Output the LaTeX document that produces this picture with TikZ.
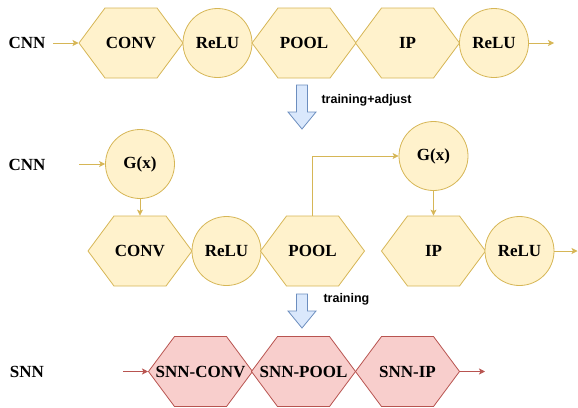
\documentclass[tikz,border=0pt]{standalone}
\usepackage{fontspec}
\setmainfont{Liberation Serif}
\newfontfamily\labelsans{Liberation Sans}
\usetikzlibrary{positioning,
                arrows.meta,                % arrow tips
                shapes.symbols}             % signal shape for the layers

\definecolor{cnnfill}{HTML}{FFF2CC}
\definecolor{cnnline}{HTML}{D6B656}
\definecolor{snnfill}{HTML}{F8CECC}
\definecolor{snnline}{HTML}{B85450}
\definecolor{stepfill}{HTML}{DAE8FC}
\definecolor{stepline}{HTML}{6C8EBF}

\tikzset{
  layer/.style={shape=signal, signal to=east and west, signal pointer angle=106.8,
                minimum width=104pt, minimum height=70pt, inner sep=0pt, line width=0.8pt},
  cnnlayer/.style={layer, draw=cnnline, fill=cnnfill},
  snnlayer/.style={layer, draw=snnline, fill=snnfill},
  act/.style={circle, minimum size=69pt, inner sep=0pt, draw=cnnline, fill=cnnfill, line width=0.8pt},
  cnnflow/.style={draw=cnnline, line width=0.8pt, -{Stealth[length=6pt, width=6pt, inset=1.5pt]}},
  snnflow/.style={draw=snnline, line width=0.8pt, -{Stealth[length=6pt, width=6pt, inset=1.5pt]}},
  steparrow/.style={draw=stepline, fill=stepfill, line width=0.8pt, line join=miter},
  steplabel/.style={anchor=west, font=\labelsans\bfseries\fontsize{12.5}{15}\selectfont}
}

\begin{document}
\begin{tikzpicture}[x=1pt, y=-1pt, font=\bfseries\fontsize{17}{20}\selectfont]
        \useasboundingbox (0,0) rectangle (578,407);

        % plain network
        \node (cnnA) at (27,43) {CNN};
        \node[cnnlayer, label=center:CONV] (convA) at (131,43) {};
        \node[act] (reluA) at (217.5,43) {ReLU};
        \node[cnnlayer, label=center:POOL] (poolA) at (304,43) {};
        \node[cnnlayer, label=center:IP] (ipA) at (407.5,43) {};
        \node[act] (reluB) at (494,43) {ReLU};
        \coordinate (inA) at (53,43);
        \coordinate (outA) at (554,43);
        \draw[cnnflow] (inA) -- (convA);
        \draw[cnnflow] (reluB) -- (outA);

        \draw[steparrow] (296.5,85) -- (307.5,85) -- (307.5,112) -- (316,112)
              -- (302,129) -- (288,112) -- (296.5,112) -- cycle;
        \node[steplabel] (adjust) at (318,100) {training+adjust};

        % network with G(x) inserted
        \node (cnnB) at (27,165) {CNN};
        \node[act] (gxA) at (140,164) {G(x)};
        \node[cnnlayer, label=center:CONV] (convB) at (140,251) {};
        \node[act] (reluC) at (226.5,251) {ReLU};
        \node[cnnlayer, label=center:POOL] (poolB) at (312.5,251) {};
        \node[act] (gxB) at (433.5,156) {G(x)};
        \node[cnnlayer, label=center:IP] (ipB) at (433.5,251) {};
        \node[act] (reluD) at (519.5,251) {ReLU};
        \coordinate (inB) at (79,164);
        \coordinate (outB) at (577.5,251);
        \draw[cnnflow] (inB) -- (gxA);
        \draw[cnnflow] (gxA) -- (convB);
        \draw[cnnflow] (poolB.north) |- (gxB);
        \draw[cnnflow] (gxB) -- (ipB);
        \draw[cnnflow] (reluD) -- (outB);

        \draw[steparrow] (296.5,294) -- (307.5,294) -- (307.5,311) -- (316,311)
              -- (302,328) -- (288,311) -- (296.5,311) -- cycle;
        \node[steplabel] (train) at (320,299) {training};

        % spiking network
        \node (snn) at (27,372) {SNN};
        \node[snnlayer, label=center:SNN-CONV] (sconv) at (200.5,371.5) {};
        \node[snnlayer, label=center:SNN-POOL] (spool) at (303.5,371.5) {};
        \node[snnlayer, label=center:SNN-IP] (sip) at (407.5,371.5) {};
        \coordinate (inC) at (123,371.5);
        \coordinate (outC) at (485,371.5);
        \draw[snnflow] (inC) -- (sconv);
        \draw[snnflow] (sip) -- (outC);

    \end{tikzpicture}
\end{document}
